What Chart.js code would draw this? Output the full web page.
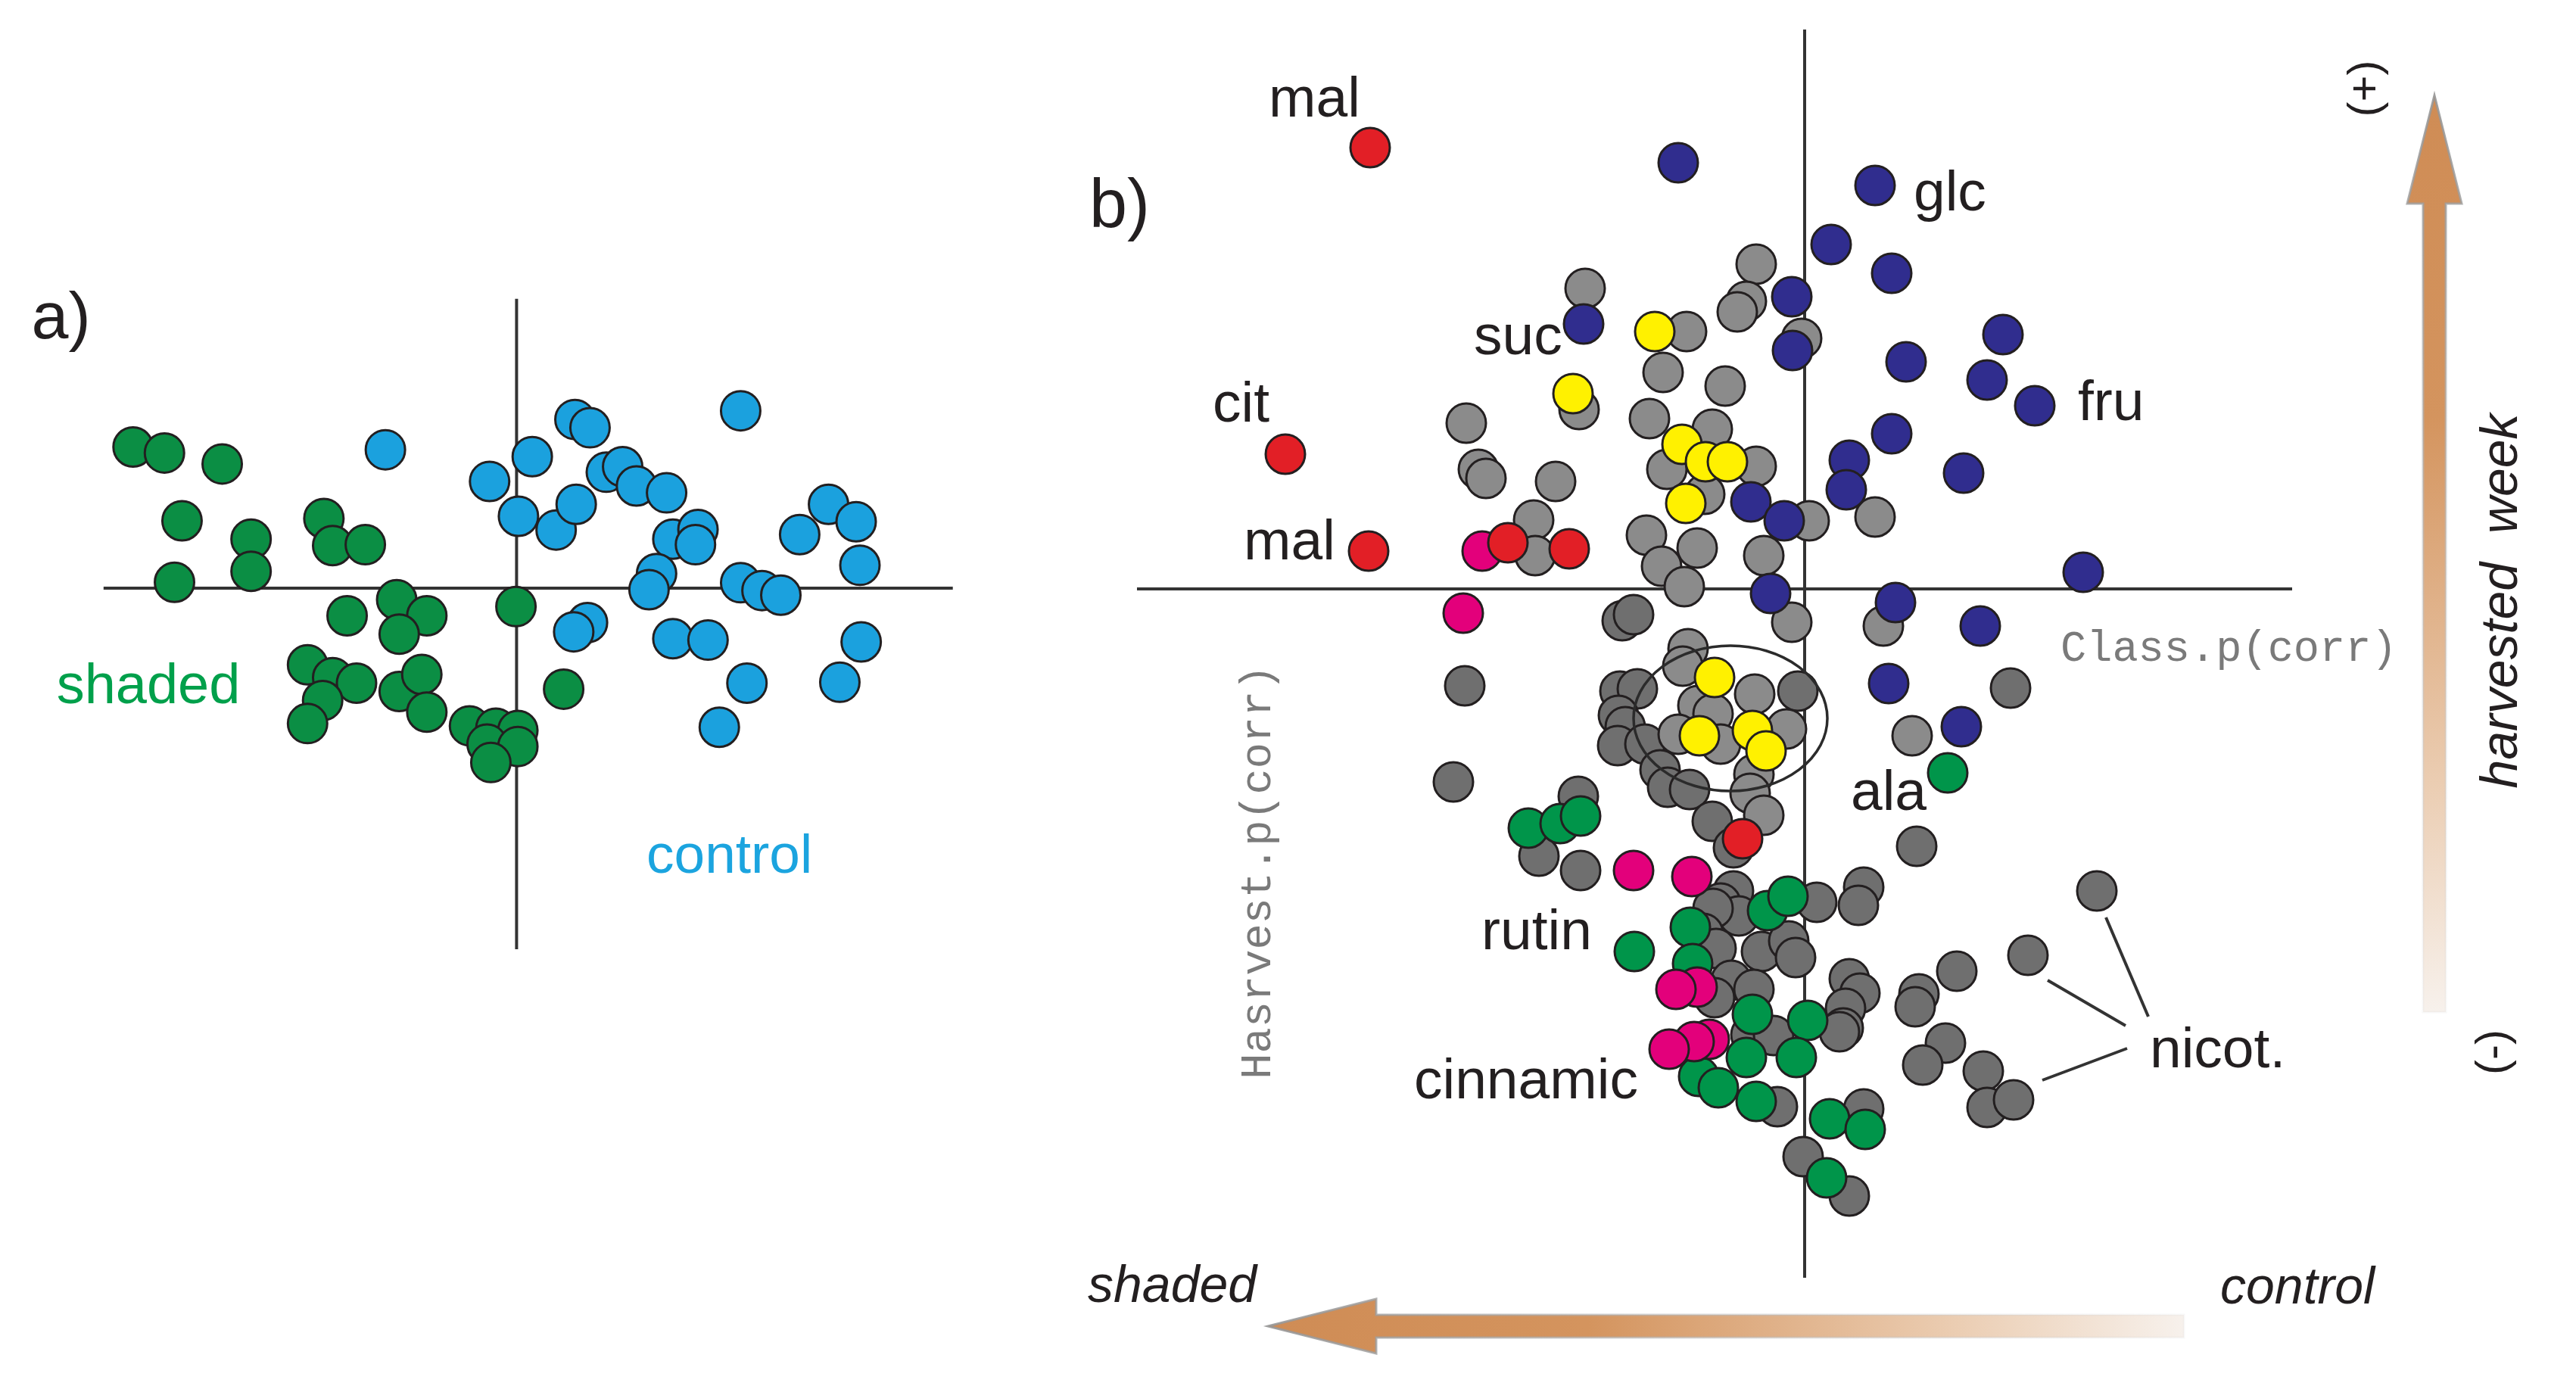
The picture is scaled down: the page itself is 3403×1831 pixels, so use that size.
<!DOCTYPE html>
<html>
<head>
<meta charset="utf-8">
<script src="https://cdn.jsdelivr.net/npm/chart.js@4.4.1/dist/chart.umd.min.js"></script>
<style>
  html, body { margin: 0; padding: 0; background: #fff; }
  #wrap { position: relative; width: 3403px; height: 1831px; overflow: hidden; }
  canvas { position: absolute; top: 0; }
  #chartA { left: 0; }
  #chartB { left: 1400px; }
</style>
</head>
<body>
<div id="wrap">
  <canvas id="chartA" width="1400" height="1831"></canvas>
  <canvas id="chartB" width="2003" height="1831"></canvas>
</div>
<script>
// ---- panel a: score plot (t1, t2) ----
const shadedScores = [
    [-6.11, 3.08], [-5.61, 2.95], [-4.69, 2.71], [-5.33, 1.47], [-4.23, 1.07], [-4.23, 0.37],
    [-5.45, 0.13], [-3.07, 1.52], [-2.93, 0.93], [-2.41, 0.95], [-1.91, -0.25], [-1.43, -0.60],
    [-2.70, -0.60], [-1.87, -1.00], [-0.01, -0.40], [-3.33, -1.67], [-2.93, -1.95], [-2.55, -2.07],
    [-3.09, -2.45], [-3.33, -2.95], [-1.87, -2.25], [-1.51, -1.88], [-1.43, -2.70], [-0.75, -3.00],
    [-0.33, -3.05], [0.02, -3.10], [-0.47, -3.40], [0.02, -3.45], [-0.41, -3.80], [0.75, -2.20]
];
const controlScores = [
    [-2.09, 3.02], [0.93, 3.68], [1.17, 3.50], [0.25, 2.87], [-0.43, 2.33], [0.03, 1.57],
    [0.63, 1.27], [0.95, 1.83], [1.43, 2.53], [1.69, 2.65], [1.91, 2.23], [2.39, 2.08],
    [3.57, 3.87], [2.49, 1.07], [2.89, 1.28], [2.85, 0.95], [2.23, 0.32], [2.11, -0.03],
    [3.57, 0.12], [3.91, -0.05], [4.21, -0.15], [4.51, 1.17], [4.97, 1.83], [5.41, 1.45],
    [5.47, 0.50], [1.13, -0.75], [0.91, -0.95], [2.49, -1.10], [3.05, -1.13], [3.67, -2.07],
    [3.23, -3.03], [5.15, -2.05], [5.49, -1.17]
];

// ---- panel b: S-plot loadings (Class.p(corr), Harvest.p(corr)) ----
const organicAcids = [
    [-1.148, 1.166], [-1.372, 0.356], [-1.152, 0.100], [-0.784, 0.122], [-0.622, 0.106], [-0.164, -0.660]
];
const phenolics = [
    [-0.852, 0.100], [-0.902, -0.064], [-0.452, -0.744], [-0.298, -0.760], [-0.284, -1.052],
    [-0.340, -1.058], [-0.252, -1.190], [-0.292, -1.196], [-0.358, -1.216]
];
const yellowGroup = [
    [-0.396, 0.680], [-0.612, 0.516], [-0.324, 0.382], [-0.262, 0.336], [-0.204, 0.336],
    [-0.314, 0.226], [-0.238, -0.234], [-0.278, -0.388], [-0.138, -0.374], [-0.102, -0.428]
];
const sugars = [
    [-0.334, 1.126], [0.186, 1.066], [0.070, 0.910], [0.230, 0.834], [-0.584, 0.700], [-0.034, 0.772],
    [-0.032, 0.630], [0.268, 0.600], [0.524, 0.672], [0.482, 0.552], [0.608, 0.484], [0.230, 0.410],
    [0.118, 0.340], [0.110, 0.262], [0.420, 0.306], [-0.142, 0.230], [-0.054, 0.180], [-0.090, -0.012],
    [0.240, -0.036], [0.736, 0.044], [0.464, -0.098], [0.222, -0.250], [0.414, -0.364]
];
const aminoGroup = [
    [-0.730, -0.632], [-0.646, -0.620], [-0.592, -0.600], [0.378, -0.486], [-0.450, -0.958],
    [-0.302, -0.894], [-0.296, -0.990], [-0.098, -0.850], [-0.044, -0.812], [-0.138, -1.124],
    [0.008, -1.140], [-0.022, -1.238], [-0.154, -1.238], [-0.280, -1.288], [-0.228, -1.318],
    [-0.128, -1.354], [0.066, -1.400], [0.160, -1.428], [0.058, -1.556]
];
const otherUpper = [
    [-0.128, 0.858], [-0.580, 0.794], [-0.154, 0.760], [-0.178, 0.732], [-0.008, 0.662], [-0.312, 0.680],
    [-0.374, 0.572], [-0.210, 0.536], [-0.596, 0.474], [-0.894, 0.438], [-0.410, 0.450], [-0.244, 0.422],
    [-0.862, 0.316], [-0.842, 0.292], [-0.658, 0.284], [-0.364, 0.316], [-0.128, 0.324], [-0.264, 0.250],
    [-0.716, 0.182], [-0.712, 0.088], [0.012, 0.180], [0.186, 0.190], [-0.418, 0.142], [-0.284, 0.108],
    [-0.378, 0.060], [-0.318, 0.006], [-0.108, 0.088], [-0.034, -0.088], [0.208, -0.098],
    [-0.308, -0.158], [-0.322, -0.204], [-0.282, -0.308], [-0.242, -0.330], [-0.334, -0.384],
    [-0.222, -0.410], [-0.132, -0.278], [-0.048, -0.370], [-0.134, -0.490], [-0.144, -0.540],
    [-0.108, -0.598], [0.284, -0.388]
];
const otherLower = [
    [-0.482, -0.084], [-0.452, -0.068], [-0.898, -0.256], [-0.928, -0.510], [-0.488, -0.270],
    [-0.442, -0.264], [-0.492, -0.334], [-0.474, -0.364], [-0.494, -0.414], [-0.422, -0.410],
    [-0.382, -0.478], [-0.362, -0.524], [-0.304, -0.530], [-0.244, -0.614], [-0.188, -0.684],
    [-0.598, -0.548], [-0.018, -0.270], [0.544, -0.262], [0.296, -0.680], [-0.702, -0.706],
    [-0.592, -0.744], [-0.188, -0.798], [-0.222, -0.830], [-0.174, -0.864], [-0.242, -0.844],
    [0.032, -0.828], [0.156, -0.788], [0.142, -0.836], [-0.268, -0.910], [-0.234, -0.950],
    [-0.114, -0.958], [-0.042, -0.930], [-0.024, -0.974], [-0.194, -1.034], [-0.238, -1.080],
    [-0.134, -1.058], [0.118, -1.030], [0.146, -1.068], [0.108, -1.108], [0.102, -1.160],
    [-0.142, -1.178], [-0.082, -1.180], [0.092, -1.170], [-0.072, -1.368], [0.156, -1.374],
    [-0.004, -1.500], [0.118, -1.604], [0.772, -0.798], [0.590, -0.968], [0.402, -1.010],
    [0.302, -1.070], [0.292, -1.104], [0.372, -1.200], [0.312, -1.258], [0.472, -1.274],
    [0.482, -1.370], [0.552, -1.350]
];
const nicotLeaders = [
    [[0.796, -0.868], [0.908, -1.130]],
    [[0.642, -1.034], [0.848, -1.154]],
    [[0.628, -1.298], [0.852, -1.214]]
];

const EDGE = '#231f20';
const LABEL_FONT = '"Liberation Sans", Arial, sans-serif';

function toPoints(arr) {
    return arr.map(p => ({ x: p[0], y: p[1] }));
}

function pointSet(label, arr, fill, radius) {
    return {
        label: label,
        data: toPoints(arr),
        backgroundColor: fill,
        borderColor: EDGE,
        borderWidth: 3,
        pointRadius: radius,
        pointHoverRadius: radius
    };
}

function lineSet(a, b, width) {
    return {
        data: [{ x: a[0], y: a[1] }, { x: b[0], y: b[1] }],
        showLine: true,
        borderColor: '#333333',
        borderWidth: width,
        pointRadius: 0,
        fill: false
    };
}

function drawText(chart, t) {
    const ctx = chart.ctx;
    const x = chart.scales.x.getPixelForValue(t.x);
    const y = chart.scales.y.getPixelForValue(t.y);
    ctx.save();
    ctx.font = t.font;
    ctx.fillStyle = t.color || EDGE;
    ctx.textAlign = t.align || 'left';
    ctx.textBaseline = t.baseline || 'alphabetic';
    ctx.translate(x, y);
    if (t.rotate) ctx.rotate(t.rotate);
    ctx.fillText(t.text, 0, 0);
    ctx.restore();
}

// the chart area has to fill the whole canvas, so no auto padding for the big points
const baseOptions = (xr, yr) => ({
    responsive: false,
    devicePixelRatio: 1,
    animation: false,
    layout: { padding: 0, autoPadding: false },
    plugins: { legend: { display: false }, tooltip: { enabled: false } },
    scales: {
        x: { type: 'linear', min: xr[0], max: xr[1], display: false },
        y: { type: 'linear', min: yr[0], max: yr[1], display: false }
    }
});

// ---------- panel a ----------
const textsA = [
    { text: 'a)', x: -7.73, y: 5.45, font: '88px ' + LABEL_FONT, color: '#231f20' },
    { text: 'shaded', x: -7.33, y: -2.50, font: '74px ' + LABEL_FONT, color: '#00a04b' },
    { text: 'control', x: 2.07, y: -6.20, font: '73px ' + LABEL_FONT, color: '#1ba4df' }
];

new Chart(document.getElementById('chartA'), {
    type: 'scatter',
    data: {
        datasets: [
            pointSet('control', controlScores, '#1ba1de', 26),
            pointSet('shaded', shadedScores, '#0b8e44', 26),
            lineSet([-6.58, 0], [6.95, 0], 4),
            lineSet([0, 6.31], [0, -7.87], 4)
        ]
    },
    options: baseOptions([-8.230, 8.654], [-17.394, 12.826]),
    plugins: [{
        id: 'textA',
        afterDatasetsDraw(chart) {
            textsA.forEach(t => drawText(chart, t));
        }
    }]
});

// ---------- panel b ----------
const F75 = '75px ' + LABEL_FONT;
const MONO = '57px "Liberation Mono", "Courier New", monospace';
const ITAL = 'italic 68px ' + LABEL_FONT;
const textsB = [
    { text: 'b)', x: -1.890, y: 0.956, font: '90px ' + LABEL_FONT },
    { text: 'mal', x: -1.416, y: 1.248, font: F75 },
    { text: 'suc', x: -0.874, y: 0.620, font: F75 },
    { text: 'cit', x: -1.564, y: 0.442, font: F75 },
    { text: 'mal', x: -1.482, y: 0.078, font: F75 },
    { text: 'glc', x: 0.288, y: 1.000, font: F75 },
    { text: 'fru', x: 0.722, y: 0.446, font: F75 },
    { text: 'ala', x: 0.122, y: -0.584, font: F75 },
    { text: 'rutin', x: -0.854, y: -0.952, font: F75 },
    { text: 'cinnamic', x: -1.032, y: -1.346, font: F75 },
    { text: 'nicot.', x: 0.912, y: -1.264, font: F75 },
    { text: 'Class.p(corr)', x: 0.676, y: -0.190, font: MONO, color: '#7a7a7a' },
    { text: 'Hasrvest.p(corr)', x: -1.442, y: -0.748, font: MONO, color: '#7a7a7a',
      align: 'center', baseline: 'middle', rotate: -Math.PI / 2 },
    { text: 'shaded', x: -1.894, y: -1.884, font: ITAL },
    { text: 'control', x: 1.098, y: -1.888, font: ITAL },
    { text: 'harvested  week', x: 1.844, y: -0.032, font: ITAL,
      align: 'center', baseline: 'middle', rotate: -Math.PI / 2 },
    { text: '(+)', x: 1.484, y: 1.322, font: '60px ' + LABEL_FONT,
      align: 'center', baseline: 'middle', rotate: -Math.PI / 2 },
    { text: '(-)', x: 1.822, y: -1.224, font: '60px ' + LABEL_FONT,
      align: 'center', baseline: 'middle', rotate: -Math.PI / 2 }
];

// gradient arrows, ends given in data units
const arrowLeft = { tip: [-1.418, -1.948], base: -1.132, tail: 1.002 };
const arrowUp = { tip: [1.664, 1.304], base: 1.018, tail: -1.118 };
const cluster = { x: -0.196, y: -0.342, rx: 0.256, ry: 0.192 };

function drawArrows(chart) {
    const ctx = chart.ctx;
    const sx = chart.scales.x, sy = chart.scales.y;
    const shaft = 15, head = 36;

    // horizontal, pointing to "shaded"
    const tx = sx.getPixelForValue(arrowLeft.tip[0]);
    const cy = sy.getPixelForValue(arrowLeft.tip[1]);
    const hx = sx.getPixelForValue(arrowLeft.base);
    const ex = sx.getPixelForValue(arrowLeft.tail);
    let g = ctx.createLinearGradient(tx, 0, ex, 0);
    g.addColorStop(0, '#cf8c55');
    g.addColorStop(0.35, '#d4945e');
    g.addColorStop(0.75, '#ebcdb2');
    g.addColorStop(1, '#f7f1ec');
    let s = ctx.createLinearGradient(tx, 0, ex, 0);
    s.addColorStop(0, 'rgba(150,150,150,0.9)');
    s.addColorStop(1, 'rgba(220,220,220,0.2)');
    ctx.save();
    ctx.beginPath();
    ctx.moveTo(tx, cy);
    ctx.lineTo(hx, cy - head);
    ctx.lineTo(hx, cy - shaft);
    ctx.lineTo(ex, cy - shaft);
    ctx.lineTo(ex, cy + shaft);
    ctx.lineTo(hx, cy + shaft);
    ctx.lineTo(hx, cy + head);
    ctx.closePath();
    ctx.fillStyle = g;
    ctx.fill();
    ctx.strokeStyle = s;
    ctx.lineWidth = 3;
    ctx.stroke();
    ctx.restore();

    // vertical, harvest week
    const ux = sx.getPixelForValue(arrowUp.tip[0]);
    const ty = sy.getPixelForValue(arrowUp.tip[1]);
    const hy = sy.getPixelForValue(arrowUp.base);
    const ey = sy.getPixelForValue(arrowUp.tail);
    g = ctx.createLinearGradient(0, ty, 0, ey);
    g.addColorStop(0, '#cf8c55');
    g.addColorStop(0.35, '#d4945e');
    g.addColorStop(0.75, '#ebcdb2');
    g.addColorStop(1, '#f7f1ec');
    s = ctx.createLinearGradient(0, ty, 0, ey);
    s.addColorStop(0, 'rgba(150,150,150,0.9)');
    s.addColorStop(1, 'rgba(220,220,220,0.2)');
    ctx.save();
    ctx.beginPath();
    ctx.moveTo(ux, ty);
    ctx.lineTo(ux + head, hy);
    ctx.lineTo(ux + shaft, hy);
    ctx.lineTo(ux + shaft, ey);
    ctx.lineTo(ux - shaft, ey);
    ctx.lineTo(ux - shaft, hy);
    ctx.lineTo(ux - head, hy);
    ctx.closePath();
    ctx.fillStyle = g;
    ctx.fill();
    ctx.strokeStyle = s;
    ctx.lineWidth = 3;
    ctx.stroke();
    ctx.restore();
}

function drawCluster(chart) {
    const ctx = chart.ctx;
    const sx = chart.scales.x, sy = chart.scales.y;
    const cx = sx.getPixelForValue(cluster.x);
    const cy = sy.getPixelForValue(cluster.y);
    const rx = Math.abs(sx.getPixelForValue(cluster.x + cluster.rx) - cx);
    const ry = Math.abs(sy.getPixelForValue(cluster.y + cluster.ry) - cy);
    ctx.save();
    ctx.beginPath();
    ctx.ellipse(cx, cy, rx, ry, 0, 0, Math.PI * 2);
    ctx.strokeStyle = '#2b2b2b';
    ctx.lineWidth = 3.5;
    ctx.stroke();
    ctx.restore();
}

const datasetsB = [
    pointSet('organic acids', organicAcids, '#e21f26', 26),
    pointSet('yellow', yellowGroup, '#fff100', 26),
    pointSet('sugars', sugars, '#302d8e', 26),
    pointSet('phenolics', phenolics, '#e3007b', 26),
    pointSet('amino', aminoGroup, '#00954a', 26),
    pointSet('other upper', otherUpper, '#8b8b8b', 26),
    pointSet('other lower', otherLower, '#6f6f6f', 26),
    lineSet([-1.764, 0], [1.288, 0], 4),
    lineSet([0, 1.478], [0, -1.820], 4)
];
nicotLeaders.forEach(l => datasetsB.push(lineSet(l[0], l[1], 4)));

new Chart(document.getElementById('chartB'), {
    type: 'scatter',
    data: { datasets: datasetsB },
    options: baseOptions([-1.968, 2.038], [-2.106, 1.556]),
    plugins: [{
        id: 'decorB',
        beforeDatasetsDraw(chart) {
            drawArrows(chart);
        },
        afterDatasetsDraw(chart) {
            drawCluster(chart);
            textsB.forEach(t => drawText(chart, t));
        }
    }]
});
</script>
</body>
</html>
